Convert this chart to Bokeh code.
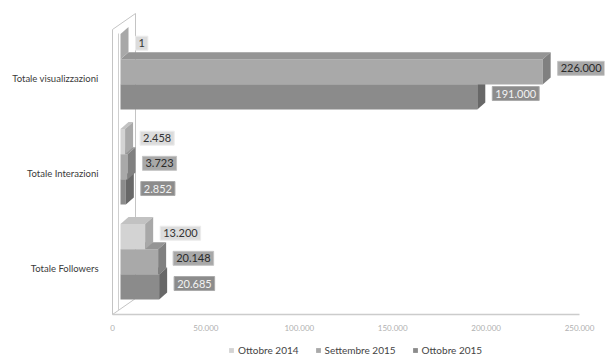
from bokeh.plotting import figure
from bokeh.models import FixedTicker, Legend, LegendItem, Label
from bokeh.core.properties import value
from bokeh.embed import file_html
from bokeh.resources import INLINE

# ---- data ----
categories = ["Totale visualizzazioni", "Totale Interazioni", "Totale Followers"]
series = ["Ottobre 2014", "Settembre 2015", "Ottobre 2015"]
ott2014 = [1, 2458, 13200]
set2015 = [226000, 3723, 20148]
ott2015 = [191000, 2852, 20685]
x_ticks = [0, 50000, 100000, 150000, 200000, 250000]

# ---- style ----
FONT = "Lato"
PX_X = 467 / 250000          # pixels per x unit
PX_Y = 95.0                   # pixels per category step
DX = 8 / PX_X                 # 3D depth, x
DY = 7 / PX_Y                 # 3D depth, y
H = 0.265                     # bar thickness
OFFS = [0.335, 0.07, -0.195]  # series offsets within a group
FRONT = ["#d3d3d3", "#a9a9a9", "#8b8b8b"]
TOP = ["#c2c2c2", "#959595", "#7a7a7a"]
SIDE = ["#a8a8a8", "#808080", "#686868"]
BOX = ["#dcdcdc", "#a8a8a8", "#8c8c8c"]
BOX_LINE = ["#ececec", "#c4c4c4", "#aaaaaa"]
BOX_TXT = ["#333333", "#2a2a2a", "#f2f2f2"]

LEFT_PAD = 6                 # px of frame to the left of zero
Y0 = -46 / PX_Y              # floor / axis line
YB = 2 - 278 / PX_Y          # bottom of canvas
Y1 = 2 + 66 / PX_Y


def fmt(v):
    return f"{v:,}".replace(",", ".")


p = figure(width=606, height=356, output_backend="svg", toolbar_location=None,
           x_range=(-LEFT_PAD / PX_X, 492 / PX_X), y_range=(YB, Y1),
           min_border_left=112 - LEFT_PAD, min_border_right=2, min_border_top=12,
           min_border_bottom=0)
p.xgrid.grid_line_color = None
p.ygrid.grid_line_color = None
p.outline_line_color = None
p.xaxis.visible = False

# back wall
wx = 23 / PX_X
p.patch(x=[0, 0, wx, wx], y=[Y0, 2 + 49 / PX_Y, 2 + 65 / PX_Y, Y0 + 16 / PX_Y],
        fill_color="white", line_color="#c4c4c4", line_width=1)
p.segment(x0=[6 / PX_X], y0=[Y0 + 4 / PX_Y], x1=[6 / PX_X], y1=[2 + 45 / PX_Y],
          line_color="#cfcfcf", line_width=1)

# axis base line and tick labels
p.segment(x0=[x_ticks[0]], y0=[Y0], x1=[x_ticks[-1]], y1=[Y0],
          line_color="#cccccc", line_width=1.5)
p.text(x=x_ticks, y=[Y0] * len(x_ticks), text=[fmt(t) for t in x_ticks],
       y_offset=13, text_font=value(FONT), text_font_size="8px",
       text_color="#b0b0b0", text_align="center", text_baseline="middle")

all_vals = [ott2014, set2015, ott2015]
ncat = len(categories)
front_renderers = {}
for s in [2, 1, 0]:
    vals = all_vals[s]
    ys = [ncat - 1 - i + OFFS[s] for i in range(ncat)]
    lefts = [DX] * ncat
    rights = [v + DX for v in vals]
    front = p.hbar(y=ys, height=H, left=lefts, right=rights,
                   fill_color=FRONT[s], line_color=None)
    front_renderers[s] = front
    top_xs, top_ys, side_xs, side_ys = [], [], [], []
    for v, y in zip(vals, ys):
        yt, yb = y + H / 2, y - H / 2
        top_xs.append([DX, v + DX, v + 2 * DX, 2 * DX])
        top_ys.append([yt, yt, yt + DY, yt + DY])
        side_xs.append([v + DX, v + 2 * DX, v + 2 * DX, v + DX])
        side_ys.append([yb, yb + DY, yt + DY, yt])
    p.patches(xs=top_xs, ys=top_ys, fill_color=TOP[s], line_color=None)
    p.patches(xs=side_xs, ys=side_ys, fill_color=SIDE[s], line_color=None)

# value labels
for s in range(3):
    for i, v in enumerate(all_vals[s]):
        p.add_layout(Label(x=v + 2 * DX, y=ncat - 1 - i + OFFS[s] + DY / 2,
                           text=fmt(v), x_offset=7,
                           text_font=FONT, text_font_size="11px",
                           text_color=BOX_TXT[s],
                           text_align="left", text_baseline="middle",
                           background_fill_color=BOX[s],
                           border_line_color=BOX_LINE[s], padding=3))

# category axis
ypos = [ncat - 1 - i for i in range(ncat)]
p.yaxis.ticker = FixedTicker(ticks=ypos)
p.yaxis.major_label_overrides = {y: c for y, c in zip(ypos, categories)}
p.yaxis.axis_line_color = None
p.yaxis.major_tick_line_color = None
p.yaxis.minor_tick_line_color = None
p.yaxis.major_label_text_font = FONT
p.yaxis.major_label_text_font_size = "9.5px"
p.yaxis.major_label_text_color = "#3a3a3a"
p.yaxis.major_label_standoff = 2

legend = Legend(items=[LegendItem(label=series[s], renderers=[front_renderers[s]]) for s in range(3)],
                orientation="horizontal", location=(116 + LEFT_PAD, 0),
                label_text_font=FONT, label_text_font_size="10px",
                label_text_color="#444444", glyph_width=6, glyph_height=6,
                label_height=12, label_standoff=4, spacing=16, padding=2, margin=0,
                border_line_color=None, background_fill_alpha=0)
p.add_layout(legend)

open("out.html", "w").write(file_html(p, INLINE))
